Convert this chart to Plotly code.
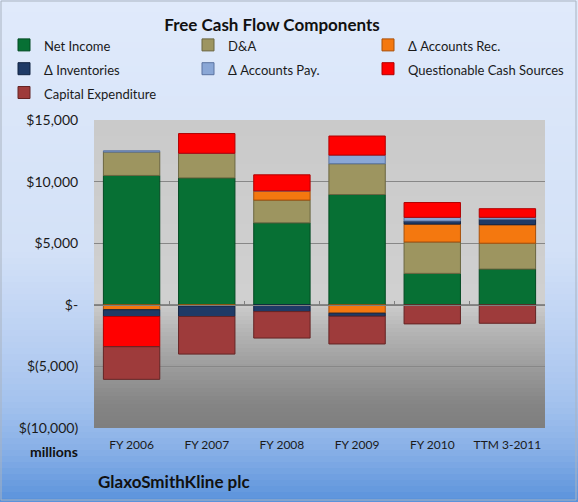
import plotly.graph_objects as go

# values in $ millions
categories = ["FY 2006", "FY 2007", "FY 2008", "FY 2009", "FY 2010", "TTM 3-2011"]
net_income = [10500, 10300, 6650, 8950, 2550, 2900]
d_and_a = [1900, 2000, 1850, 2500, 2550, 2100]
accounts_rec = [-400, -100, 750, -680, 1450, 1500]
inventories = [-550, -850, -550, -250, 250, 450]
accounts_pay = [100, 0, 0, 700, 300, 150]
questionable = [-2450, 1600, 1300, 1550, 1200, 700]
capex = [-2650, -3050, -2150, -2250, -1550, -1500]

tick_vals = [-10000, -5000, 0, 5000, 10000, 15000]
tick_text = ["$(10,000)", "$(5,000)", "$-", "$5,000", "$10,000", "$15,000"]

# name, values, fill, edge, legend column
series = [
    ("Net Income", net_income, "#077034", "#034a22", "legend"),
    ("D&A", d_and_a, "#9d9560", "#6b6640", "legend2"),
    ("Δ Accounts Rec.", accounts_rec, "#f4780f", "#a8500a", "legend3"),
    ("Δ Inventories", inventories, "#1f3a66", "#112240", "legend"),
    ("Δ Accounts Pay.", accounts_pay, "#8aa7d6", "#5a73a0", "legend2"),
    ("Questionable Cash Sources", questionable, "#ff0000", "#b00000", "legend3"),
    ("Capital Expenditure", capex, "#9e3b3b", "#652424", "legend"),
]

W, H = 578, 502
L, R, T, B = 94, 545, 120, 428


def px_x(px):
    return (px - L) / (R - L)


def px_y(py):
    return (B - py) / (B - T)


def hex_rgb(h):
    return [int(h[i:i + 2], 16) for i in (1, 3, 5)]


def ramp(stops, py):
    for (y0, c0), (y1, c1) in zip(stops, stops[1:]):
        if y0 <= py <= y1:
            t = (py - y0) / (y1 - y0)
            a, b = hex_rgb(c0), hex_rgb(c1)
            return "rgb(%d,%d,%d)" % tuple(round(a[k] + (b[k] - a[k]) * t) for k in range(3))
    return stops[-1][1]


fig = go.Figure()

for name, vals, color, edge, leg in series:
    fig.add_trace(go.Bar(
        x=categories,
        y=vals,
        name='<span style="font-size:13px">%s</span>' % name,
        legend=leg,
        marker=dict(color=color, line=dict(color=edge, width=1)),
    ))

# invisible helper trace so the zero axis (with boundary ticks) is drawn
fig.add_trace(go.Scatter(
    x=categories, y=[0] * len(categories), xaxis="x2",
    mode="lines", line=dict(width=0), opacity=0,
    showlegend=False, hoverinfo="skip",
))

shapes = []
# figure background gradient
fig_stops = [(0, "#e0eafb"), (250, "#d3e1f7"), (330, "#bdd2f3"),
             (400, "#a5c3ee"), (450, "#88b0e7"), (502, "#5a92db")]
step = 6
for py in range(0, H, step):
    shapes.append(dict(
        type="rect", xref="paper", yref="paper", layer="below",
        x0=px_x(0), x1=px_x(W), y0=px_y(py + step + 1), y1=px_y(py),
        fillcolor=ramp(fig_stops, py + step / 2), line=dict(width=0),
    ))
# plot area gradient
plot_stops = [(120, "#cacaca"), (270, "#cfcfcf"), (300, "#d0d0d0"),
              (330, "#b6b6b6"), (370, "#9a9a9a"), (405, "#848484"), (428, "#7f7f7f")]
step = 4
for py in range(T, B, step):
    shapes.append(dict(
        type="rect", xref="paper", yref="paper", layer="below",
        x0=0, x1=1, y0=max(px_y(py + step + 0.5), 0), y1=px_y(py),
        fillcolor=ramp(plot_stops, py + step / 2), line=dict(width=0),
    ))
# outer border
shapes.append(dict(
    type="rect", xref="paper", yref="paper", layer="above",
    x0=px_x(1), x1=px_x(W - 2), y0=px_y(H - 2), y1=px_y(1),
    line=dict(color="#a9b3c0", width=1),
))


def legend_column(left_px):
    return dict(
        orientation="v",
        traceorder="normal",
        xref="container", yref="container",
        x=left_px / W, xanchor="left",
        y=1 - 28 / H, yanchor="top",
        itemwidth=30,
        font=dict(size=16, color="#1a1a1a"),
        bgcolor="rgba(0,0,0,0)",
    )


fig.update_layout(
    width=W,
    height=H,
    margin=dict(l=L, r=W - R, t=T, b=H - B, autoexpand=False),
    paper_bgcolor="#5a92db",
    plot_bgcolor="rgba(0,0,0,0)",
    barmode="relative",
    bargap=0.25,
    font=dict(family="Lato, Open Sans, sans-serif", color="#1a1a1a"),
    title=dict(
        text="<b>Free Cash Flow Components</b>",
        x=272 / W, xref="container", xanchor="center",
        y=1 - 25 / H, yref="container", yanchor="middle",
        font=dict(size=17, color="#111111"),
    ),
    legend=legend_column(4),
    legend2=legend_column(188),
    legend3=legend_column(368),
    xaxis=dict(
        type="category",
        categoryarray=categories,
        showgrid=False,
        zeroline=False,
        showline=False,
        ticks="outside",
        ticklen=6,
        tickcolor="rgba(0,0,0,0)",
        tickfont=dict(size=12, color="#1a1a1a"),
    ),
    xaxis2=dict(
        type="category",
        categoryarray=categories,
        overlaying="x",
        matches="x",
        anchor="free",
        position=10000 / 25000,
        showline=True,
        linecolor="#7f7f7f",
        linewidth=1,
        ticks="inside",
        tickson="boundaries",
        ticklen=4,
        tickcolor="#7f7f7f",
        showticklabels=False,
        showgrid=False,
    ),
    yaxis=dict(
        range=[-10000, 15000],
        tickvals=tick_vals,
        ticktext=tick_text,
        showgrid=True,
        gridcolor="#878787",
        gridwidth=1,
        zeroline=False,
        ticks="outside",
        ticklen=12,
        tickcolor="rgba(0,0,0,0)",
        tickfont=dict(size=14, color="#1a1a1a"),
    ),
    shapes=shapes,
    annotations=[
        dict(
            text="<b>millions</b>", xref="paper", yref="paper",
            x=px_x(80), y=px_y(451), xanchor="right", yanchor="middle",
            showarrow=False, font=dict(size=14, color="#111111"),
        ),
        dict(
            text="<b>GlaxoSmithKline plc</b>", xref="paper", yref="paper",
            x=px_x(96), y=px_y(481), xanchor="left", yanchor="middle",
            showarrow=False, font=dict(size=17, color="#111111"),
        ),
    ],
    showlegend=True,
)

# drop the page's default body margin so the chart sits at the window corner
fig.write_html(
    "out.html",
    config={"displayModeBar": False},
    post_script="document.body.style.margin = '0';",
)
